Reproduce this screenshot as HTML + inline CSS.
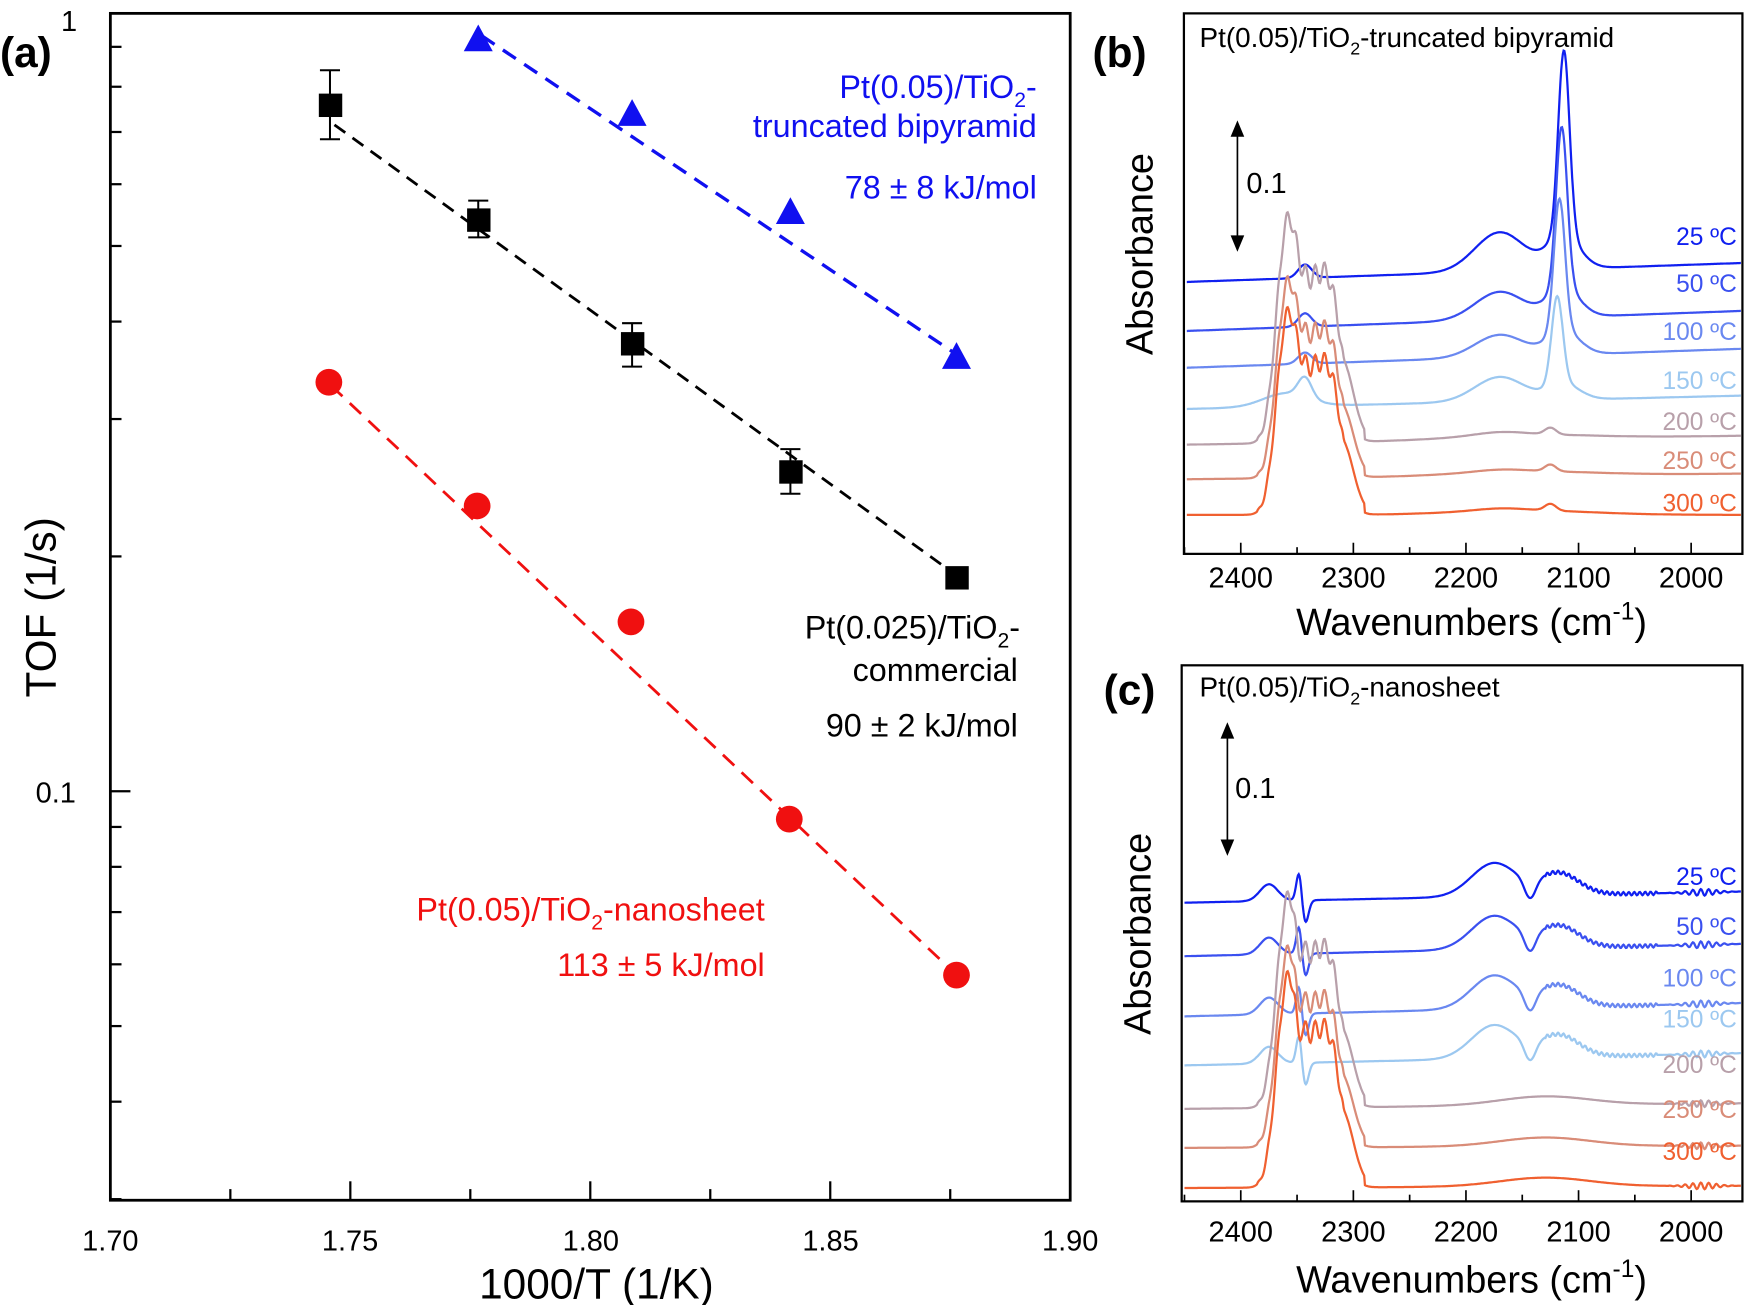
<!DOCTYPE html>
<html><head><meta charset="utf-8"><style>
html,body{margin:0;padding:0;background:#fff;}
svg{display:block;font-family:"Liberation Sans",sans-serif;}
</style></head><body>
<svg id="s" width="1748" height="1305" viewBox="0 0 1568 1171" preserveAspectRatio="none" xmlns="http://www.w3.org/2000/svg">
<rect width="1568" height="1171" fill="#fff"/>
<g id="a"></g>
<rect x="99" y="12" width="861" height="1065" fill="none" stroke="#000" stroke-width="2.5"/>
<g font-size="26" text-anchor="middle">
<text x="99" y="1122">1.70</text><text x="314" y="1122">1.75</text><text x="530" y="1122">1.80</text><text x="745" y="1122">1.85</text><text x="960" y="1122">1.90</text>
</g>
<text x="535" y="1165" font-size="38" text-anchor="middle">1000/T (1/K)</text>
<text x="50" y="720" font-size="26" text-anchor="middle">0.1</text>
<text x="62" y="28" font-size="26" text-anchor="middle">1</text>
<text transform="translate(50,545) rotate(-90)" font-size="38" text-anchor="middle">TOF (1/s)</text>
<text x="0" y="60" font-size="38" font-weight="bold">(a)</text>
<g font-size="29" text-anchor="end">
<text x="930" y="88" fill="#1010f0">Pt(0.05)/TiO<tspan font-size="19" dy="8">2</tspan><tspan dy="-8">-</tspan></text>
<text x="930" y="123" fill="#1010f0">truncated bipyramid</text>
<text x="930" y="178" fill="#1010f0">78 ± 8 kJ/mol</text>
<text x="915" y="573">Pt(0.025)/TiO<tspan font-size="19" dy="8">2</tspan><tspan dy="-8">-</tspan></text>
<text x="913" y="611">commercial</text>
<text x="913" y="661">90 ± 2 kJ/mol</text>
<text x="686" y="826" fill="#f01010">Pt(0.05)/TiO<tspan font-size="19" dy="8">2</tspan><tspan dy="-8">-nanosheet</tspan></text>
<text x="686" y="876" fill="#f01010">113 ± 5 kJ/mol</text>
</g>
<line x1="300" y1="112" x2="852" y2="512" stroke="#000" stroke-width="2.5" stroke-dasharray="12,8"/>
<line x1="432" y1="32" x2="855" y2="316" stroke="#1010f0" stroke-width="3" stroke-dasharray="14,9"/>
<line x1="297" y1="346" x2="855" y2="872" stroke="#f01010" stroke-width="2.5" stroke-dasharray="14,9"/>
<g stroke="#000" stroke-width="1.8">
<line x1="296" y1="63" x2="296" y2="125"/><line x1="287" y1="63" x2="305" y2="63"/><line x1="287" y1="125" x2="305" y2="125"/>
<line x1="429" y1="180" x2="429" y2="213"/><line x1="420" y1="180" x2="438" y2="180"/><line x1="420" y1="213" x2="438" y2="213"/>
<line x1="567" y1="290" x2="567" y2="329"/><line x1="558" y1="290" x2="576" y2="290"/><line x1="558" y1="329" x2="576" y2="329"/>
<line x1="709" y1="403" x2="709" y2="443"/><line x1="700" y1="403" x2="718" y2="403"/><line x1="700" y1="443" x2="718" y2="443"/>
</g>
<g fill="#000">
<rect x="286" y="84" width="21" height="21"/><rect x="419" y="187" width="21" height="21"/><rect x="557" y="298" width="21" height="21"/><rect x="699" y="413" width="21" height="21"/><rect x="848" y="508" width="21" height="21"/>
</g>
<g fill="#1010f0">
<polygon points="429,22 442,46 416,46"/><polygon points="567,89 580,113 554,113"/><polygon points="709,177 722,201 696,201"/><polygon points="858,307 871,331 845,331"/>
</g>
<g fill="#f01010">
<circle cx="295" cy="343" r="12"/><circle cx="428" cy="454" r="12"/><circle cx="566" cy="558" r="12"/><circle cx="708" cy="735" r="12"/><circle cx="858" cy="875" r="12"/>
</g>
<g id="spec"></g>
<rect x="1062" y="12" width="501" height="485" fill="none" stroke="#000" stroke-width="2"/>
<rect x="1060" y="597" width="503" height="481" fill="none" stroke="#000" stroke-width="2"/>
<text x="980" y="60" font-size="38" font-weight="bold">(b)</text>
<text x="990" y="632" font-size="38" font-weight="bold">(c)</text>
<text x="1076" y="42" font-size="25">Pt(0.05)/TiO<tspan font-size="16" dy="7">2</tspan><tspan dy="-7">-truncated bipyramid</tspan></text>
<text x="1076" y="625" font-size="25">Pt(0.05)/TiO<tspan font-size="16" dy="7">2</tspan><tspan dy="-7">-nanosheet</tspan></text>
<text transform="translate(1034,228) rotate(-90)" font-size="34" text-anchor="middle">Absorbance</text>
<text transform="translate(1032,838) rotate(-90)" font-size="34" text-anchor="middle">Absorbance</text>
<text x="1320" y="570" font-size="34" text-anchor="middle">Wavenumbers (cm<tspan font-size="22" dy="-14">-1</tspan><tspan dy="14">)</tspan></text>
<text x="1320" y="1160" font-size="34" text-anchor="middle">Wavenumbers (cm<tspan font-size="22" dy="-14">-1</tspan><tspan dy="14">)</tspan></text>
<g font-size="26" text-anchor="middle">
<text x="1113" y="527">2400</text><text x="1214" y="527">2300</text><text x="1315" y="527">2200</text><text x="1416" y="527">2100</text><text x="1517" y="527">2000</text>
<text x="1113" y="1114">2400</text><text x="1214" y="1114">2300</text><text x="1315" y="1114">2200</text><text x="1416" y="1114">2100</text><text x="1517" y="1114">2000</text>
</g>
<g stroke="#000" stroke-width="1.5">
<line x1="1110" y1="112" x2="1110" y2="222"/><polygon points="1110,110 1105,122 1115,122" fill="#000"/><polygon points="1110,224 1105,212 1115,212" fill="#000"/>
<line x1="1101" y1="652" x2="1101" y2="764"/><polygon points="1101,650 1096,662 1106,662" fill="#000"/><polygon points="1101,766 1096,754 1106,754" fill="#000"/>
</g>
<text x="1118" y="173" font-size="26">0.1</text>
<text x="1108" y="716" font-size="26">0.1</text>
<g id="lbl" font-size="22" text-anchor="end"></g>
</svg>
<script>
var NS="http://www.w3.org/2000/svg";
function el(p,t,a){var e=document.createElementNS(NS,t);for(var k in a)e.setAttribute(k,a[k]);p.appendChild(e);return e;}
var A=document.getElementById('a');
var dec=700;function ya(v){return 710-dec*Math.log10(v/0.1);}
for(var i=0;i<=8;i++){var x=99+i*861/8;el(A,'line',{x1:x,x2:x,y1:1077,y2:i%2?1067:1060,stroke:'#000','stroke-width':2});}
[0.03,0.04,0.05,0.06,0.07,0.08,0.09,0.1,0.2,0.3,0.4,0.5,0.6,0.7,0.8,0.9].forEach(function(v){var y=ya(v);el(A,'line',{x1:99,x2:v==0.1?117:109,y1:y,y2:y,stroke:'#000','stroke-width':2});});
var S=document.getElementById('spec'),L=document.getElementById('lbl');
function g(w,c,s){return Math.exp(-0.5*Math.pow((w-c)/s,2));}
function co2(w){var v=g(w,2360,9)+0.8*g(w,2338,14)+0.55*g(w,2318,10);
 if(w>2290&&w<2385)v+=0.06*Math.sin((w-2290)*0.75)*g(w,2335,25);
 if(w<2375&&w>2290)v=Math.max(v,0.55*(1/(1+Math.exp((w-2372)/3)))*(1/(1+Math.exp((2300-w)/5))));return v;}
function wx(w){return 1113+(2400-w)*1.01;}
function draw(x0,x1,b0,b1,f,col,top,bot){var d='';for(var w=2450;w>=1955;w-=0.7){var x=wx(w);if(x<x0||x>x1)continue;var t=(x-x0)/(x1-x0);var y=b0+(b1-b0)*t-f(w);y=Math.max(top,Math.min(bot,y));d+=(d?'L':'M')+x.toFixed(1)+' '+y.toFixed(1);}el(S,'path',{d:d,fill:'none',stroke:col,'stroke-width':2});}
var cols=['#1020f0','#3a50f0','#6a88f0','#9cc8f0','#b8a0aa','#d98c78','#f06030'];
var names=['25 ºC','50 ºC','100 ºC','150 ºC','200 ºC','250 ºC','300 ºC'];
var bb=[[253,236],[297,279],[330,313],[367,355],[399,391],[430,425],[462,462]];
var pk=[195,170,140,93,0,0,0],br=[35,25,20,22,3,2,2],c2=[0,0,0,0,160,140,144],sm=[12,12,10,18,0,0,0];
for(var i=0;i<7;i++){(function(i){draw(1064,1562,bb[i][0],bb[i][1],function(w){return pk[i]*(g(w,2113+i*2,5)*0.85+0.15*g(w,2113,14))+br[i]*g(w,2170,22)+sm[i]*g(w,2343,6)+(i==3?12*g(w,2360,20):0)+c2[i]*co2(w)+(i>=4?6*g(w,2125,5):0)+(i>=4?4*g(w,2150,60):0);},cols[i],13,496);})(i);
 el(L,'text',{x:1558,y:[220,262,305,349,386,421,459][i],fill:cols[i]}).textContent=names[i];}
var bc=[[810,800],[858,847],[912,900],[956,945],[995,990],[1030,1028],[1066,1064]];
var c2c=[0,0,0,0,150,140,150];
for(var i=0;i<7;i++){(function(i){draw(1062,1562,bc[i][0],bc[i][1],function(w){var v=0;if(i<4){v+=30*g(w,2175,20)-18*g(w,2143,5)+20*g(w,2118,18)+15*g(w,2375,8)+28*g(w,2348,2.5)-22*g(w,2343,3);if(w<2130&&w>2030)v+=1.5*Math.sin(w*1.3);}
 else{v+=c2c[i]*co2(w)-20*g(w,2349,2)+8*g(w,2130,40);}
 if(w<2020&&w>1958)v+=3*Math.sin(w*0.9)*g(w,1990,12);return v;},cols[i],598,1077);})(i);
 el(L,'text',{x:1558,y:[794,839,885,922,963,1003,1041][i],fill:cols[i]}).textContent=names[i];}
[[497,1062],[1078,1060]].forEach(function(p){for(var w=2450;w>=1955;w-=50){var x=wx(w);if(x<p[1]||x>1563)continue;el(S,'line',{x1:x,x2:x,y1:p[0],y2:p[0]-(w%100==0?10:6),stroke:'#000','stroke-width':1.5});}});
</script>
</body></html>
